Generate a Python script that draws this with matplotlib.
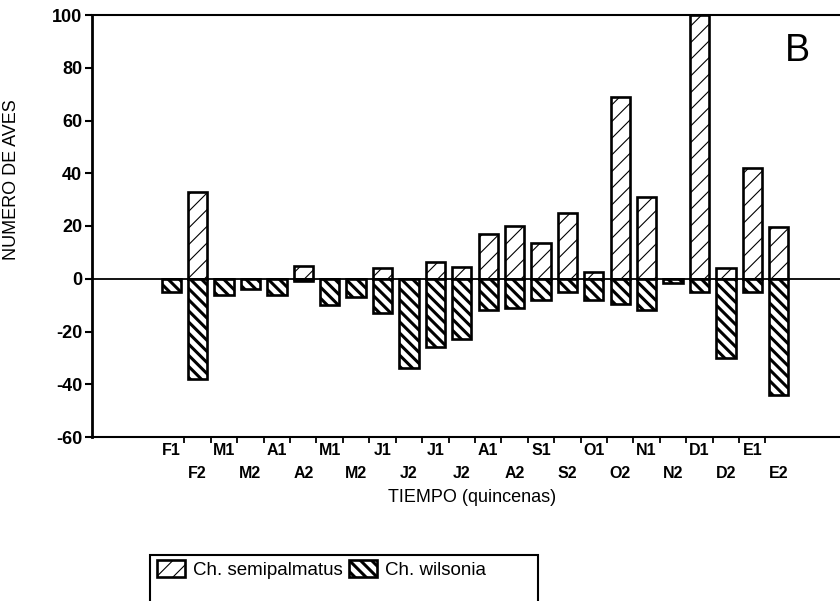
import matplotlib
matplotlib.use("Agg")
import matplotlib.pyplot as plt
from matplotlib.patches import Rectangle
import numpy as np

plt.rcParams['font.family'] = ['Liberation Sans', 'DejaVu Sans']

categories = ["F1", "F2", "M1", "M2", "A1", "A2", "M1", "M2", "J1", "J2", "J1", "J2",
              "A1", "A2", "S1", "S2", "O1", "O2", "N1", "N2", "D1", "D2", "E1", "E2"]
semipalmatus = [0, 33, 0, 0, 0, 5, 0, 0, 4, 0, 6.5, 4.5,
                17, 20, 13.5, 25, 2.4, 69, 31, 0, 100, 4, 42, 19.5]
wilsonia = [-5, -38, -6, -4, -6, -1, -10, -7, -13, -34, -26, -23,
            -12, -11, -8, -5, -8, -9.5, -12, -1.6, -5, -30, -5, -44]
yticks = [-60, -40, -20, 0, 20, 40, 60, 80, 100]

BS = chr(92)
HATCH_SEMI = '//'
HATCH_WILS = BS * 3
LW_SEMI = 0.8
LW_WILS = 2.2

W, H = 840, 601
fig = plt.figure(figsize=(W / 100, H / 100), dpi=100)
ax = fig.add_axes([92 / W, 1 - 437 / H, (850 - 92) / W, (437 - 15) / H])

x = np.arange(len(categories))


def with_hatch_lw(artist, lw):
    if hasattr(artist, 'set_hatch_linewidth'):
        artist.set_hatch_linewidth(lw)
    artist._hatch_linewidth = lw
    orig = artist.draw

    def draw(renderer, _orig=orig, _lw=lw):
        with plt.rc_context({'hatch.linewidth': _lw}):
            _orig(renderer)
    artist.draw = draw


b1 = ax.bar(x, semipalmatus, width=0.73, color='white', edgecolor='black',
            linewidth=1.9, hatch=HATCH_SEMI, label='Ch. semipalmatus', zorder=2)
b2 = ax.bar(x, wilsonia, width=0.73, color='white', edgecolor='black',
            linewidth=1.9, hatch=HATCH_WILS, label='Ch. wilsonia', zorder=2)
for p in b1:
    with_hatch_lw(p, LW_SEMI)
for p in b2:
    with_hatch_lw(p, LW_WILS)

ax.axhline(0, color='black', lw=1.3, zorder=3)

ax.set_xlim(-3, 25.7)
ax.set_ylim(-60, 100)
ax.set_yticks(yticks)
ax.set_yticklabels([str(v) for v in yticks], fontsize=13, fontweight='bold')
ax.tick_params(axis='y', direction='out', length=5, width=1.5, pad=2)

# boundary ticks (major) and labels at bar centres (minor)
ax.set_xticks(x[:-1] + 0.5)
ax.set_xticklabels([])
ax.tick_params(axis='x', which='major', direction='out', length=4, width=1.3)
ax.set_xticks(x, minor=True)
labs = [c if i % 2 == 0 else "\n" + c for i, c in enumerate(categories)]
ax.set_xticklabels(labs, minor=True, fontsize=11.5, fontweight='bold')
ax.tick_params(axis='x', which='minor', length=0, pad=4)
for t in ax.get_xticklabels(minor=True):
    t.set_linespacing(1.7)

ax.spines['left'].set_linewidth(2.0)
ax.spines['bottom'].set_linewidth(1.5)
ax.spines['top'].set_linewidth(1.5)
ax.spines['right'].set_visible(False)

fig.text(12 / W, 1 - 180 / H, "NUMERO DE AVES", rotation=90, ha='center', va='center', fontsize=13)
fig.text(472 / W, 1 - 498 / H, "TIEMPO (quincenas)", ha='center', va='center', fontsize=13)
fig.text(797 / W, 1 - 51 / H, "B", ha='center', va='center', fontsize=27)

fig.patches.append(Rectangle((150 / W, 1 - 620 / H), (538 - 150) / W, (620 - 555) / H,
                             transform=fig.transFigure, fill=False, edgecolor='black',
                             linewidth=1.5))
leg = fig.legend(handles=[b1, b2], loc='upper left', bbox_to_anchor=(153 / W, 1 - 556 / H),
                 ncol=2, frameon=False, fontsize=13.5, handlelength=1.5, handleheight=1.0,
                 handletextpad=0.45, columnspacing=0.3, borderpad=0.2, borderaxespad=0)
for h, lw in zip(leg.legend_handles, [LW_SEMI, LW_WILS]):
    with_hatch_lw(h, lw)

fig.savefig("out.png", dpi=100)
